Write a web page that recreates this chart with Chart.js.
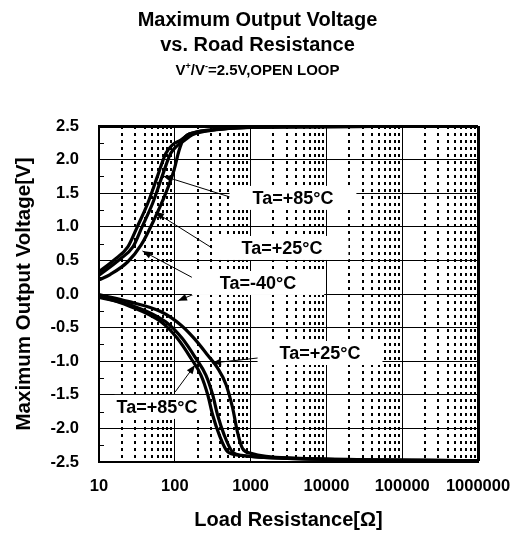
<!DOCTYPE html>
<html>
<head>
<meta charset="utf-8">
<script src="https://cdn.jsdelivr.net/npm/chart.js@4.4.0/dist/chart.umd.min.js"></script>
<style>
  html, body { margin: 0; padding: 0; background: #fff; }
  #wrap { position: relative; width: 515px; height: 533px; }
  .ttl { position: absolute; left: 0; width: 515px; text-align: center; line-height: 1;
         font-family: 'Liberation Sans', Arial, sans-serif; font-weight: bold; color: #000; white-space: nowrap; }
  .ttl sup { font-size: 9px; line-height: 0; vertical-align: 6px; }
  canvas { position: absolute; left: 0; top: 0; }
</style>
</head>
<body>
<div id="wrap">
  <canvas id="chartCanvas" width="515" height="533"></canvas>
  <div class="ttl" style="top:9px;font-size:20px">Maximum Output Voltage</div>
  <div class="ttl" style="top:34px;font-size:20px">vs. Road Resistance</div>
  <div class="ttl" style="top:62px;font-size:15px">V<sup>+</sup>/V<sup>-</sup>=2.5V,OPEN LOOP</div>
</div>
<script>
// ticks
const xDecades = [10, 100, 1000, 10000, 100000, 1000000];
const yTicks = [-2.5, -2.0, -1.5, -1.0, -0.5, 0.0, 0.5, 1.0, 1.5, 2.0, 2.5];

// positive swing (R in ohm, V)
const posR85 = [10, 16, 24, 32, 44, 59, 76, 93, 120, 155, 310, 870, 1000000];
const posV85 = [0.33, 0.51, 0.70, 1.00, 1.35, 1.75, 2.09, 2.22, 2.29, 2.38, 2.44, 2.48, 2.50];
const posR25 = [10, 18.5, 28, 37, 51, 68, 88, 106, 135, 170, 330, 900, 1000000];
const posV25 = [0.28, 0.51, 0.70, 1.00, 1.35, 1.75, 2.09, 2.20, 2.29, 2.37, 2.44, 2.48, 2.50];
const posRm40 = [10, 14, 24, 36, 53, 76, 98, 114, 133, 180, 350, 1000, 1000000];
const posVm40 = [0.21, 0.29, 0.48, 0.73, 1.10, 1.50, 1.85, 2.14, 2.32, 2.40, 2.45, 2.48, 2.50];

// negative swing
const negR85 = [10, 24, 65, 108, 164, 222, 272, 316, 387, 499, 700, 1500, 10000, 1000000];
const negV85 = [-0.03, -0.17, -0.41, -0.66, -0.96, -1.21, -1.50, -1.80, -2.10, -2.35, -2.40, -2.43, -2.46, -2.48];
const negRm40 = [10, 27, 75, 125, 190, 258, 316, 367, 449, 575, 760, 1500, 10000, 1000000];
const negVm40 = [-0.05, -0.17, -0.41, -0.66, -0.96, -1.21, -1.50, -1.80, -2.10, -2.35, -2.40, -2.43, -2.46, -2.48];
const negR25 = [10, 24, 65, 120, 180, 272, 366, 475, 580, 670, 785, 1010, 3000, 1000000];
const negV25 = [-0.01, -0.11, -0.26, -0.46, -0.66, -0.91, -1.10, -1.35, -1.70, -2.05, -2.30, -2.37, -2.44, -2.48];

// labels: text position and leader lines, in data units (R, V)
const labelTexts = ['Ta=+85°C', 'Ta=+25°C', 'Ta=-40°C', 'Ta=+25°C', 'Ta=+85°C'];
const labelAt = [[3620, 1.43], [2594, 0.685], [1253, 0.164], [8240, -0.878], [58.2, -1.68]];
const leaders = [
  [[535, 1.443], [70, 1.756]],
  [[310, 0.685], [54.8, 1.22]],
  [[185, 0.223], [37.5, 0.64]],
  [[196, 0.015], [110, -0.10]],
  [[1253, -0.952], [310, -1.027]],
  [[101, -1.458], [185, -1.056]]
];
const labelPad = [23, 26, 28, 22, 2];

const FONT = "'Liberation Sans', Arial, sans-serif";

function pts(rs, vs) {
  return rs.map((r, i) => ({ x: r, y: vs[i] }));
}

const xMinor = [];
xDecades.slice(0, -1).forEach(d => {
  for (let k = 2; k <= 9; k++) xMinor.push(d * k);
});
const yMinor = yTicks.slice(0, -1).map(v => v + 0.25);

const minorGrid = {
  id: 'minorGrid',
  beforeDatasetsDraw(chart) {
    const { ctx, chartArea: a, scales: { x, y } } = chart;
    ctx.save();
    ctx.strokeStyle = '#000';
    ctx.lineWidth = 2;
    ctx.setLineDash([3, 4]);
    xMinor.forEach(v => {
      const px = Math.round(x.getPixelForValue(v));
      ctx.beginPath();
      ctx.moveTo(px, a.top);
      ctx.lineTo(px, a.bottom);
      ctx.stroke();
    });
    ctx.setLineDash([]);
    ctx.lineWidth = 1;
    yMinor.forEach(v => {
      const py = Math.round(y.getPixelForValue(v)) + 0.5;
      ctx.beginPath();
      ctx.moveTo(a.left, py);
      ctx.lineTo(a.left + 5, py);
      ctx.stroke();
    });
    ctx.restore();
  }
};

const callouts = {
  id: 'callouts',
  afterDatasetsDraw(chart) {
    const { ctx, scales: { x, y } } = chart;
    ctx.save();
    ctx.strokeStyle = '#000';
    ctx.fillStyle = '#000';
    ctx.lineWidth = 1;
    leaders.forEach(([from, to]) => {
      const x0 = x.getPixelForValue(from[0]), y0 = y.getPixelForValue(from[1]);
      const x1 = x.getPixelForValue(to[0]), y1 = y.getPixelForValue(to[1]);
      ctx.beginPath();
      ctx.moveTo(x0, y0);
      ctx.lineTo(x1, y1);
      ctx.stroke();
      const ang = Math.atan2(y1 - y0, x1 - x0);
      ctx.beginPath();
      ctx.moveTo(x1, y1);
      ctx.lineTo(x1 - 9 * Math.cos(ang) + 3.5 * Math.sin(ang), y1 - 9 * Math.sin(ang) - 3.5 * Math.cos(ang));
      ctx.lineTo(x1 - 9 * Math.cos(ang) - 3.5 * Math.sin(ang), y1 - 9 * Math.sin(ang) + 3.5 * Math.cos(ang));
      ctx.closePath();
      ctx.fill();
    });
    ctx.font = 'bold 18px ' + FONT;
    ctx.textAlign = 'center';
    ctx.textBaseline = 'middle';
    labelTexts.forEach((t, i) => {
      const cx = x.getPixelForValue(labelAt[i][0]);
      const cy = y.getPixelForValue(labelAt[i][1]);
      const w = ctx.measureText(t).width + labelPad[i] * 2;
      ctx.fillStyle = '#fff';
      ctx.fillRect(cx - w / 2, cy - 12, w, 24);
      ctx.fillStyle = '#000';
      ctx.fillText(t, cx, cy + 1);
    });
    ctx.restore();
  }
};

function line(label, rs, vs) {
  return {
    label,
    data: pts(rs, vs),
    borderColor: '#000',
    borderWidth: 3.2,
    pointRadius: 0,
    fill: false,
    cubicInterpolationMode: 'monotone'
  };
}

const ctx = document.getElementById('chartCanvas').getContext('2d');
new Chart(ctx, {
  type: 'line',
  data: {
    datasets: [
      line('Ta=+85°C', posR85, posV85),
      line('Ta=+25°C', posR25, posV25),
      line('Ta=-40°C', posRm40, posVm40),
      line('Ta=+85°C', negR85, negV85),
      line('Ta=-40°C', negRm40, negVm40),
      line('Ta=+25°C', negR25, negV25)
    ]
  },
  options: {
    responsive: false,
    animation: false,
    layout: { padding: { top: 126, right: 37, bottom: 0, left: 0 } },
    plugins: { legend: { display: false }, tooltip: { enabled: false } },
    scales: {
      x: {
        type: 'logarithmic',
        min: 10,
        max: 1000000,
        afterBuildTicks: s => { s.ticks = xDecades.map(v => ({ value: v })); },
        afterFit: s => { s.height = 71; s.paddingRight = 0; s.paddingLeft = 0; },
        ticks: {
          callback: v => String(v),
          color: '#000',
          font: { family: FONT, size: 16.5, weight: 'bold' },
          padding: 15,
          maxRotation: 0,
          autoSkip: false
        },
        grid: {
          color: '#000',
          lineWidth: c => (c.tick && c.tick.value === 1000000 ? 3 : 1),
          drawTicks: false
        },
        border: { color: '#000', width: 2 },
        title: {
          display: true,
          text: 'Load Resistance[Ω]',
          color: '#000',
          font: { family: FONT, size: 20, weight: 'bold' },
          padding: { top: 0, bottom: 1 }
        }
      },
      y: {
        min: -2.5,
        max: 2.5,
        afterBuildTicks: s => { s.ticks = yTicks.map(v => ({ value: v })); },
        afterFit: s => { s.width = 99; },
        ticks: {
          callback: v => v.toFixed(1),
          color: '#000',
          font: { family: FONT, size: 16.5, weight: 'bold' },
          padding: 20
        },
        grid: {
          color: '#000',
          lineWidth: c => (c.tick && c.tick.value === 2.5 ? 3 : 1),
          drawTicks: false
        },
        border: { color: '#000', width: 2 },
        title: {
          display: true,
          text: 'Maximum Output Voltage[V]',
          color: '#000',
          font: { family: FONT, size: 20.5, weight: 'bold' },
          padding: { top: 12, bottom: 0 }
        }
      }
    }
  },
  plugins: [minorGrid, callouts]
});
</script>
</body>
</html>
